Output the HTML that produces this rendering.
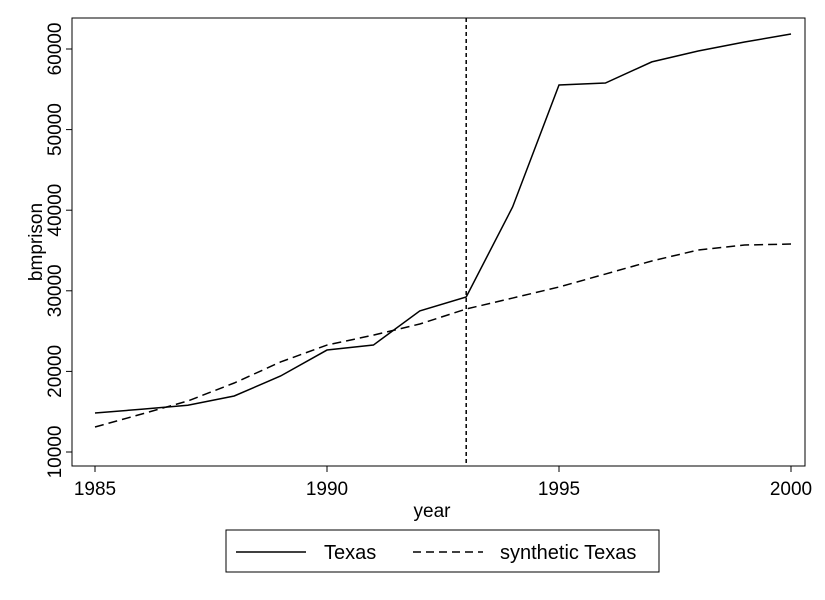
<!DOCTYPE html>
<html><head><meta charset="utf-8"><style>
body{margin:0;background:#fff;}
svg{display:block;font-family:"Liberation Sans",sans-serif;}
</style></head><body>
<svg id="chart" width="825" height="600">
<rect x="72" y="18" width="733" height="448" fill="none" stroke="#000" stroke-width="1"/>
<g id="axes"></g>
<g id="series"></g>
<text x="432" y="517" font-size="19" text-anchor="middle">year</text>
<text transform="translate(42,242) rotate(-90)" font-size="19" text-anchor="middle">bmprison</text>
<g>
<rect x="226" y="530" width="433" height="42" fill="#fff" stroke="#000"/>
<line x1="236" y1="552" x2="306" y2="552" stroke="#000" stroke-width="1.5"/>
<text x="324" y="559" font-size="20">Texas</text>
<line x1="413" y1="552" x2="483" y2="552" stroke="#000" stroke-width="1.5" stroke-dasharray="8,5"/>
<text x="500" y="559" font-size="20">synthetic Texas</text>
</g>
</svg>
<script>
const years=[1985,1986,1987,1988,1989,1990,1991,1992,1993,1994,1995,1996,1997,1998,1999,2000];
const texas=[14840,15300,15800,16950,19430,22650,23270,27500,29230,40400,55530,55780,58400,59750,60870,61860];
const synthetic=[13100,14700,16330,18560,21170,23270,24500,25880,27740,29100,30470,32080,33700,35060,35680,35800];
const xTicks=[1985,1990,1995,2000];
const yTicks=[10000,20000,30000,40000,50000,60000];
const treatYear=1993;
const NS="http://www.w3.org/2000/svg";
const xs=v=>95+(v-1985)*(791-95)/15;
const ys=v=>452-(v-10000)*(452-49)/50000;
const axes=document.getElementById('axes'),series=document.getElementById('series');
function mk(tag,attrs,parent){const e=document.createElementNS(NS,tag);for(const k in attrs)e.setAttribute(k,attrs[k]);parent.appendChild(e);return e;}
xTicks.forEach(t=>{
 const l=mk('line',{x1:xs(t),x2:xs(t),y1:466,y2:472,stroke:'#000'},axes);
 
 
 const tx=mk('text',{x:xs(t),y:495,'font-size':19,'text-anchor':'middle'},axes);tx.textContent=t;
 
 
});
yTicks.forEach(t=>{
 const l=mk('line',{x1:66,x2:72,y1:ys(t),y2:ys(t),stroke:'#000'},axes);
 
 
 const tx=mk('text',{transform:`translate(61,${ys(t)}) rotate(-90)`,'font-size':19,'text-anchor':'middle'},axes);tx.textContent=t;
 
 
});
const vl=mk('line',{x1:xs(treatYear),x2:xs(treatYear),y1:18,y2:466,stroke:'#000','stroke-width':1.5,'stroke-dasharray':'4,3'},series);


const p1=mk('polyline',{points:years.map((y,i)=>xs(y)+','+ys(texas[i])).join(' '),fill:'none',stroke:'#000','stroke-width':1.5},series);


const p2=mk('polyline',{points:years.map((y,i)=>xs(y)+','+ys(synthetic[i])).join(' '),fill:'none',stroke:'#000','stroke-width':1.5,'stroke-dasharray':'9,5'},series);


</script>
</body></html>
